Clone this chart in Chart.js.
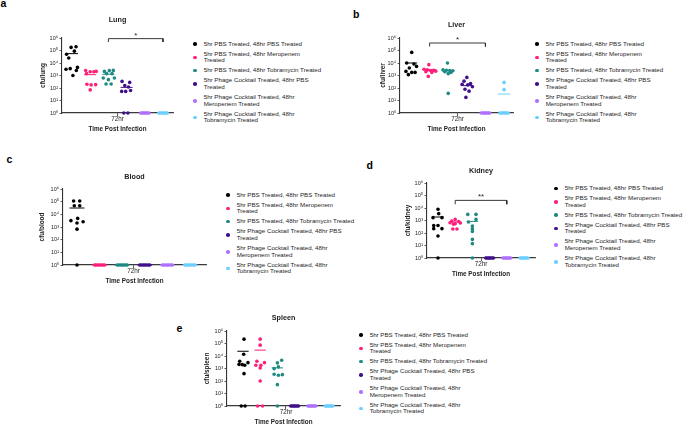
<!DOCTYPE html>
<html>
<head>
<meta charset="utf-8">
<script src="https://cdn.jsdelivr.net/npm/chart.js@4.4.1/dist/chart.umd.min.js"></script>
<style>
  body { margin: 0; background: #fff; }
  #fig { position: relative; width: 685px; height: 427px; overflow: hidden; font-family: "Liberation Sans", Arial, sans-serif; color: #222; }
  canvas { position: absolute; }
  .tag { position: absolute; font-size: 10.5px; font-weight: bold; line-height: 1; color: #000; }
  .legend { position: absolute; font-size: 6.2px; line-height: 6.7px; color: #262626; white-space: nowrap; }
  .legend div { position: relative; padding-left: 10.5px; margin-bottom: 3.3px; }
  .legend span { display: block; position: absolute; left: 0; top: 50%; width: 3.6px; height: 3.6px; margin-top: -1.8px; border-radius: 50%; }
</style>
</head>
<body>
<div id="fig">
  <div class="tag" style="left:0.5px;top:-2px">a</div>
  <div class="tag" style="left:353px;top:8.8px">b</div>
  <div class="tag" style="left:6.5px;top:154.4px">c</div>
  <div class="tag" style="left:366.5px;top:160.4px">d</div>
  <div class="tag" style="left:176.5px;top:322.8px">e</div>

  <canvas id="lung"></canvas>
  <canvas id="liver"></canvas>
  <canvas id="blood"></canvas>
  <canvas id="kidney"></canvas>
  <canvas id="spleen"></canvas>

  <div class="legend" id="legA" style="left:193.2px;top:40.6px"></div>
  <div class="legend" id="legB" style="left:535.2px;top:40.6px"></div>
  <div class="legend" id="legC" style="left:226.2px;top:191.6px"></div>
  <div class="legend" id="legD" style="left:554.2px;top:185px"></div>
  <div class="legend" id="legE" style="left:359.2px;top:331.6px"></div>
</div>

<script>
// groups (legend text as it wraps in the figure)
const groupNames = [
    ['5hr PBS Treated, 48hr PBS Treated'],
    ['5hr PBS Treated, 48hr Meropenem', 'Treated'],
    ['5hr PBS Treated, 48hr Tobramycin Treated'],
    ['5hr Phage Cocktail Treated, 48hr PBS', 'Treated'],
    ['5hr Phage Cocktail Treated, 48hr', 'Meropenem Treated'],
    ['5hr Phage Cocktail Treated, 48hr', 'Tobramycin Treated']
];
const groupColors = ['#000000', '#ff1f7a', '#1e8a82', '#40108a', '#b070ff', '#6bcfff'];

const yTickValues = [1, 10, 100, 1000, 10000, 100000, 1000000];
const yTickLabels = ['10⁰', '10¹', '10²', '10³', '10⁴', '10⁵', '10⁶'];
const xTickLabel = '72hr';

// log10(cfu) per animal, 0 = none detected
const zeroJitter = [-0.22, -0.15, -0.07, 0, 0.07, 0.15, 0.22];
const zeros = [0, 0, 0, 0, 0, 0, 0];

const lungLog = [
    [5.25, 5.3, 4.95, 4.7, 4.4, 3.65, 3.55, 3.5, 3.4, 3.0],
    [3.4, 3.33, 3.3, 3.3, 3.15, 2.3, 2.27, 2.25, 1.85],
    [3.41, 3.39, 3.33, 3.15, 3.15, 2.8, 2.8, 2.67, 2.32, 2.32],
    [2.53, 2.45, 2.2, 2.08, 1.8, 1.73, 1.73, 0, 0],
    zeros,
    zeros
];
const lungJitter = [
    [-0.05, 0.22, 0.13, -0.3, -0.18, 0.3, -0.1, -0.33, 0.24, 0.05],
    [-0.25, 0.33, 0, 0.2, -0.2, -0.18, 0.3, 0.05, 0],
    [0.27, 0.05, -0.22, -0.1, 0.2, -0.28, 0.33, 0, -0.13, 0.15],
    [-0.25, 0.17, -0.1, 0.1, 0.22, -0.27, -0.05, -0.15, 0.07],
    zeroJitter,
    zeroJitter
];
const lungMean = [4.75, 3.07, 3.1, 2.05, 0, 0];
const lungSig = [3, 6, 5.95, 5.68];

const liverLog = [
    [4.85, 4.0, 3.92, 3.73, 3.6, 3.33, 3.25, 3.25, 3.07],
    [3.87, 3.5, 3.45, 3.4, 3.42, 3.35, 3.3, 3.25, 2.93],
    [4.0, 3.45, 3.42, 3.4, 3.38, 3.3, 3.25, 3.15, 1.57],
    [2.85, 2.55, 2.35, 2.3, 2.25, 2.1, 1.9, 1.75, 1.25],
    zeros,
    [2.45, 1.87, 0, 0, 0, 0, 0, 0, 0]
];
const liverJitter = [
    [0.04, -0.23, 0.16, 0.3, -0.09, -0.27, 0.04, 0.22, -0.14],
    [-0.04, -0.3, -0.12, 0.05, 0.22, 0.33, -0.2, 0.12, -0.07],
    [-0.04, -0.28, -0.1, 0.08, 0.25, -0.18, 0.15, 0, 0],
    [0, -0.15, 0.2, -0.25, 0.05, 0.3, -0.1, 0.12, -0.05],
    zeroJitter,
    [0, 0, -0.22, -0.15, -0.07, 0, 0.07, 0.15, 0.22]
];
const liverMean = [4.0, 3.47, 3.39, 2.19, 0, 1.52];
const liverSig = [2, 5, 5.6, 5.32];

const bloodLog = [
    [5.05, 5.05, 4.68, 4.68, 3.68, 3.5, 3.41, 3.31, 2.83, 0],
    zeros, zeros, zeros, zeros, zeros
];
const bloodJitter = [
    [-0.15, 0.12, -0.12, 0.12, 0.03, -0.27, 0.27, 0, 0, 0],
    zeroJitter, zeroJitter, zeroJitter, zeroJitter, zeroJitter
];
const bloodMean = [4.5, 0, 0, 0, 0, 0];

const kidneyLog = [
    [3.9, 3.55, 3.23, 3.23, 2.6, 2.6, 2.35, 2.35, 1.76, 0],
    [3.09, 2.95, 2.92, 2.82, 2.8, 2.75, 2.7, 2.32, 2.32],
    [3.49, 3.49, 3.09, 2.88, 2.56, 2.35, 2.13, 1.49, 1.15, 0],
    zeros, zeros, zeros
];
const kidneyJitter = [
    [0, 0.04, -0.29, 0.23, -0.25, 0, 0.23, -0.25, 0, 0],
    [0, -0.2, 0.2, -0.3, 0.3, 0, -0.1, -0.14, 0.1],
    [-0.27, 0.21, 0.21, -0.23, 0, 0, 0, 0, 0, 0],
    zeroJitter, zeroJitter, zeroJitter
];
const kidneyMean = [3.28, 2.88, 2.93, 0, 0, 0];
const kidneySig = [2, 5, 4.61, 4.3];

const spleenLog = [
    [5.35, 4.14, 3.58, 3.47, 3.33, 3.31, 3.26, 2.59, 0, 0],
    [5.35, 4.87, 3.58, 3.47, 3.26, 3.26, 3.05, 2.0, 0, 0],
    [3.66, 3.45, 3.13, 2.99, 2.54, 2.46, 2.51, 1.71, 0],
    zeros, zeros, zeros
];
const spleenJitter = [
    [0.06, 0.04, -0.19, 0.29, -0.23, -0.04, 0.1, 0.06, -0.1, 0.12],
    [0, 0, -0.19, 0.25, 0.04, -0.25, 0, 0, -0.15, 0.14],
    [0.25, 0, 0.06, -0.19, -0.19, 0.06, 0.29, 0, 0],
    zeroJitter, zeroJitter, zeroJitter
];
const spleenMean = [4.38, 4.47, 3.05, 0, 0, 0];

const FONT = '"Liberation Sans", Arial, sans-serif';
Chart.defaults.font.family = FONT;
Chart.defaults.color = '#222';

// brackets + stars above the compared groups
const sigPlugin = {
    id: 'sig',
    afterDatasetsDraw(chart, args, opts) {
        if (!opts.text) return;
        const { ctx, scales: { x, y } } = chart;
        ctx.save();
        ctx.font = '8px ' + FONT;
        ctx.fillStyle = '#222';
        ctx.textAlign = 'center';
        ctx.textBaseline = 'alphabetic';
        ctx.fillText(opts.text, x.getPixelForValue(opts.x), y.getPixelForValue(opts.y) - 1);
        ctx.restore();
    }
};

function makePanel(p) {
    const wy = 26, ht = 30, hx = 22, padR = 4;
    const [L, T, R, B] = p.box;
    const cv = document.getElementById(p.id);
    cv.width = R - L + wy + padR;
    cv.height = B - T + ht + hx;
    cv.style.left = (L - wy) + 'px';
    cv.style.top = (T - ht) + 'px';

    const datasets = [];
    p.logs.forEach((vals, g) => {
        datasets.push({
            data: vals.map((v, k) => ({ x: g + 1 + p.jitter[g][k], y: Math.pow(10, v) })),
            backgroundColor: groupColors[g],
            pointRadius: 1.8,
            pointBorderWidth: 0,
            clip: false,
            order: 0
        });
        const m = Math.pow(10, p.means[g]);
        datasets.push({
            data: [{ x: g + 0.67, y: m }, { x: g + 1.33, y: m }],
            showLine: true,
            borderColor: groupColors[g],
            borderWidth: 1,
            pointRadius: 0,
            clip: false,
            order: 1
        });
    });

    let sig = false;
    if (p.sig) {
        const [a, b, top, drop] = p.sig;
        datasets.push({
            data: [
                { x: a, y: Math.pow(10, drop) }, { x: a, y: Math.pow(10, top) },
                { x: b, y: Math.pow(10, top) }, { x: b, y: Math.pow(10, drop) }
            ],
            showLine: true,
            borderColor: '#222',
            borderWidth: 0.9,
            pointRadius: 0,
            clip: false,
            order: 2
        });
        sig = { text: p.sigText, x: (a + b) / 2, y: Math.pow(10, top) };
    }

    new Chart(cv, {
        type: 'scatter',
        data: { datasets },
        plugins: [sigPlugin],
        options: {
            responsive: false,
            animation: false,
            events: [],
            layout: { padding: { left: 0, right: padR, top: 0, bottom: 0 } },
            plugins: {
                legend: { display: false },
                tooltip: { enabled: false },
                title: {
                    display: true,
                    text: p.title,
                    fullSize: false,
                    color: '#222',
                    font: { size: 7.2, weight: 'bold', lineHeight: 1.25 },
                    padding: { top: p.titlePad, bottom: ht - p.titlePad - 9 }
                },
                sig
            },
            scales: {
                x: {
                    type: 'linear',
                    min: p.xRange[0],
                    max: p.xRange[1],
                    afterBuildTicks: s => { s.ticks = [{ value: 3.5 }]; },
                    afterFit: s => { s.height = hx; },
                    ticks: { callback: () => xTickLabel, font: { size: 6.3, lineHeight: 1 }, padding: 0, color: '#222' },
                    grid: { drawOnChartArea: false, drawTicks: true, tickLength: 3, color: '#333', lineWidth: 0.8 },
                    border: { display: true, color: '#3a3a3a', width: 1.2 },
                    title: {
                        display: true,
                        text: 'Time Post Infection',
                        color: '#222',
                        font: { size: 6.3, weight: 'bold', lineHeight: 1.2 },
                        padding: { top: 0, bottom: 1.8 }
                    }
                },
                y: {
                    type: 'logarithmic',
                    min: 1,
                    max: 1000000,
                    afterBuildTicks: s => { s.ticks = yTickValues.map(v => ({ value: v })); },
                    afterFit: s => { s.width = wy; },
                    ticks: {
                        autoSkip: false,
                        callback: (v, i) => yTickLabels[i],
                        font: { size: 5.5 },
                        padding: 1.5,
                        color: '#222'
                    },
                    grid: { drawOnChartArea: false, drawTicks: true, tickLength: 2.5, color: '#333', lineWidth: 0.8 },
                    border: { display: true, color: '#333', width: 1.1 },
                    title: {
                        display: true,
                        text: p.yTitle,
                        color: '#222',
                        font: { size: 6.4, weight: 'bold', lineHeight: 1.2 },
                        padding: { top: p.yTitlePad, bottom: 0 }
                    }
                }
            }
        }
    });
}

makePanel({ id: 'lung', box: [62, 38, 173, 113], xRange: [0.45, 6.55], title: 'Lung', titlePad: 7.2,
    yTitle: 'cfu/lung', yTitlePad: 3.2, logs: lungLog, jitter: lungJitter, means: lungMean, sig: lungSig, sigText: '*' });
makePanel({ id: 'liver', box: [400, 38, 513, 113], xRange: [0.41, 6.48], title: 'Liver', titlePad: 12.2,
    yTitle: 'cfu/liver', yTitlePad: 5.2, logs: liverLog, jitter: liverJitter, means: liverMean, sig: liverSig, sigText: '*' });
makePanel({ id: 'blood', box: [63, 189, 206, 265], xRange: [0.38, 6.71], title: 'Blood', titlePad: 13.5,
    yTitle: 'cfu/blood', yTitlePad: 1.2, logs: bloodLog, jitter: bloodJitter, means: bloodMean });
makePanel({ id: 'kidney', box: [427, 183, 535, 258], xRange: [0.36, 6.64], title: 'Kidney', titlePad: 13.5,
    yTitle: 'cfu/kidney', yTitlePad: 3.2, logs: kidneyLog, jitter: kidneyJitter, means: kidneyMean, sig: kidneySig, sigText: '**' });
makePanel({ id: 'spleen', box: [227, 331, 340, 406], xRange: [0.07, 6.64], title: 'Spleen', titlePad: 12.8,
    yTitle: 'cfu/spleen', yTitlePad: 2.2, logs: spleenLog, jitter: spleenJitter, means: spleenMean });

// legends
['legA', 'legB', 'legC', 'legD', 'legE'].forEach(id => {
    const box = document.getElementById(id);
    groupNames.forEach((lines, g) => {
        const item = document.createElement('div');
        const dot = document.createElement('span');
        dot.style.background = groupColors[g];
        item.appendChild(dot);
        lines.forEach((t, k) => {
            if (k) item.appendChild(document.createElement('br'));
            item.appendChild(document.createTextNode(t));
        });
        box.appendChild(item);
    });
});
</script>
</body>
</html>
